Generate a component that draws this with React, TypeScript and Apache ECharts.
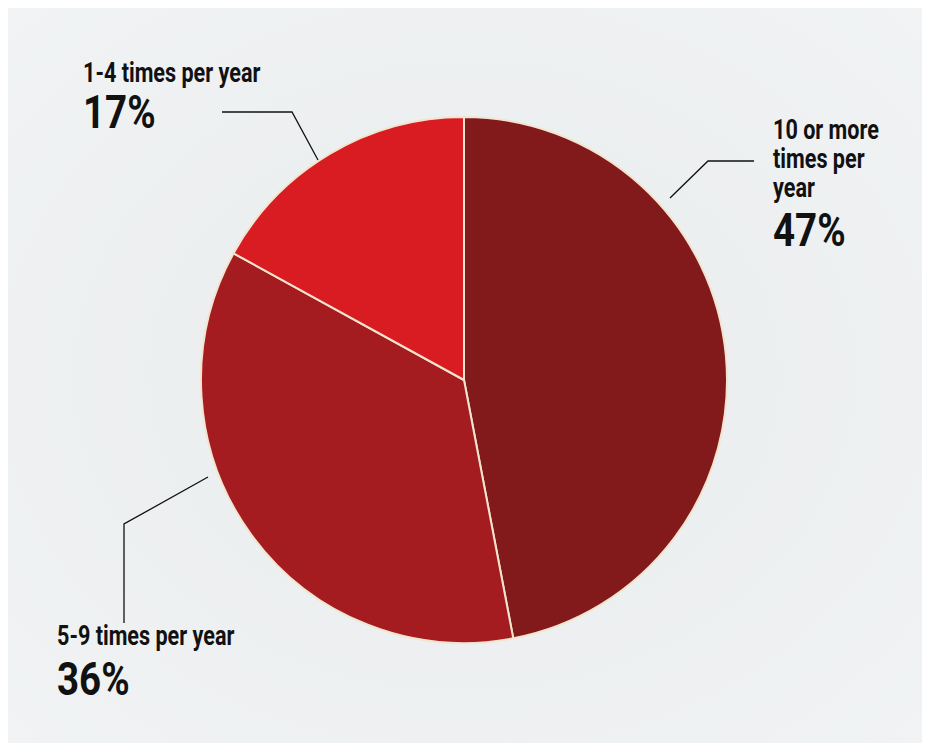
import React, { useEffect, useRef } from "react";
import * as echarts from "echarts";

const categories = ["10 or more times per year", "5-9 times per year", "1-4 times per year"];
const labelTexts = ["10 or more\ntimes per\nyear", "5-9 times per year", "1-4 times per year"];
const values = [47, 36, 17];
const colors = ["#821a1c", "#a51c20", "#d91c22"];

// layout for labels (x, y of the caption top) and leader lines
const labelPos = [
  { x: 773, y: 115, pctY: 206 },
  { x: 57, y: 621, pctY: 655 },
  { x: 83, y: 58, pctY: 88 },
];
const leaderLines = [
  [[754, 161], [708, 161], [670, 198]],
  [[208, 477], [124, 524], [124, 623]],
  [[222, 112], [292, 112], [318, 160]],
];

export default function App() {
  const ref = useRef<HTMLDivElement>(null);
  useEffect(() => {
    const chart = echarts.init(ref.current!, null, { renderer: "svg" });
    const graphics: any[] = [
      {
        type: "rect",
        z: -10,
        shape: { x: 8, y: 8, width: 914, height: 735 },
        style: {
          fill: new echarts.graphic.RadialGradient(0.5, 0.5, 0.75, [
            { offset: 0, color: "#e9ecee" },
            { offset: 1, color: "#f1f3f4" },
          ]),
        },
      },
    ];
    const font = "Roboto, 'DejaVu Sans', sans-serif";
    values.forEach((v, i) => {
      const p = labelPos[i];
      graphics.push({
        type: "text",
        x: p.x,
        y: p.y,
        scaleX: 0.8,
        z: 10,
        style: {
          text: labelTexts[i],
          fontFamily: font,
          fontWeight: "bold",
          fontSize: 27,
          lineHeight: 29,
          fill: "#111",
          verticalAlign: "top",
        },
      });
      graphics.push({
        type: "text",
        x: p.x,
        y: p.pctY,
        scaleX: 0.82,
        z: 10,
        style: {
          text: v + "%",
          fontFamily: font,
          fontWeight: "bold",
          fontSize: 47,
          fill: "#111",
          verticalAlign: "top",
        },
      });
      graphics.push({
        type: "polyline",
        z: 10,
        shape: { points: leaderLines[i] },
        style: { stroke: "#111", lineWidth: 1.3, fill: null },
      });
    });
    chart.setOption({
      animation: false,
      backgroundColor: "#ffffff",
      graphic: graphics,
      series: [
        {
          type: "pie",
          center: [464, 380],
          radius: 263,
          startAngle: 90,
          clockwise: true,
          label: { show: false },
          labelLine: { show: false },
          emphasis: { disabled: true },
          itemStyle: { borderColor: "#f2e4cf", borderWidth: 2 },
          data: values.map((v, i) => ({
            name: categories[i],
            value: v,
            itemStyle: { color: colors[i] },
          })),
        },
      ],
    });
    return () => chart.dispose();
  }, []);
  return (
    <div
      ref={ref}
      style={{ position: "absolute", left: 0, top: 0, width: 926, height: 747 }}
    />
  );
}
